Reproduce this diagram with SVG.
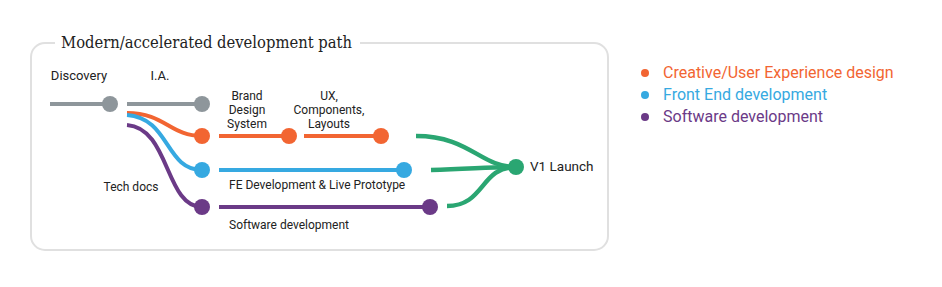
<svg xmlns="http://www.w3.org/2000/svg" width="942" height="287" viewBox="0 0 942 287">
<style>
text{font-family:Roboto,"Liberation Sans",sans-serif;font-size:12px;fill:#222}
.ln{fill:none;stroke-width:4;stroke-linecap:butt}
.g{stroke:#8e969b}.o{stroke:#f26532}.b{stroke:#36a9e1}.p{stroke:#6b3a87}.gr{stroke:#2aa672;stroke-width:4.5}
.dg{fill:#8e969b}.do{fill:#f26532}.db{fill:#36a9e1}.dp{fill:#6b3a87}.dgr{fill:#2aa672}
.c{text-anchor:middle}
.leg{font-size:16px}
.top{font-size:13px}
</style>
<rect width="942" height="287" fill="#fff"/>
<path d="M55 43 H45 A14 14 0 0 0 31 57 V236 A14 14 0 0 0 45 250 H594 A14 14 0 0 0 608 236 V57 A14 14 0 0 0 594 43 H360" fill="none" stroke="#e0e0e0" stroke-width="2"/>
<text x="61" y="48" textLength="291" lengthAdjust="spacingAndGlyphs" style="font-family:'DejaVu Serif','Liberation Serif',serif;font-size:16px">Modern/accelerated development path</text>
<g id="connectors">
<path class="ln g" d="M50 104 H110"/>
<path class="ln g" d="M127 104 H202"/>
<path class="ln o" d="M127 113 C165 113 170 136 202 136"/>
<path class="ln b" d="M127 115 C170 118 165 170 202 170"/>
<path class="ln p" d="M127 125 C170 128 165 207 202 207"/>
<path class="ln o" d="M219 136 H289"/>
<path class="ln o" d="M304 136 H381"/>
<path class="ln b" d="M219 170 H404"/>
<path class="ln p" d="M219 207 H430"/>
<path class="ln gr" d="M416 136 C470 136 480 167 516 167"/>
<path class="ln gr" d="M431 170 C470 169 490 167 516 167"/>
<path class="ln gr" d="M447 206 C485 206 480 167 516 167"/>
</g>
<g id="discovery"><circle class="dg" cx="110" cy="104" r="8"/><text class="c top" x="79" y="80">Discovery</text></g>
<g id="ia"><circle class="dg" cx="202" cy="104" r="8"/><text class="c top" x="160" y="80">I.A.</text></g>
<g id="brand"><circle class="do" cx="202" cy="136" r="8"/><circle class="do" cx="289" cy="136" r="8"/><text class="c" x="247" y="100">Brand</text><text class="c" x="247" y="114">Design</text><text class="c" x="247" y="128">System</text></g>
<g id="ux"><circle class="do" cx="381" cy="136" r="8"/><text class="c" x="329" y="100">UX,</text><text class="c" x="329" y="114">Components,</text><text class="c" x="329" y="128">Layouts</text></g>
<g id="fe"><circle class="db" cx="202" cy="170" r="8"/><circle class="db" cx="404" cy="170" r="8"/><text x="229" y="189">FE Development &amp; Live Prototype</text></g>
<g id="sw"><circle class="dp" cx="202" cy="207" r="8"/><circle class="dp" cx="430" cy="207" r="8"/><text x="229" y="229">Software development</text></g>
<g id="techdocs"><text class="c" x="131" y="191">Tech docs</text></g>
<g id="launch"><circle class="dgr" cx="516" cy="167" r="8"/><text x="530" y="171" style="font-size:13.5px">V1 Launch</text></g>
<g id="legend">
<circle class="do" cx="645" cy="73" r="4"/><text class="leg" x="663" y="78" style="fill:#f26532">Creative/User Experience design</text>
<circle class="db" cx="645" cy="95" r="4"/><text class="leg" x="663" y="100" style="fill:#36a9e1">Front End development</text>
<circle class="dp" cx="645" cy="117" r="4"/><text class="leg" x="663" y="122" style="fill:#6b3a87">Software development</text>
</g>
</svg>
